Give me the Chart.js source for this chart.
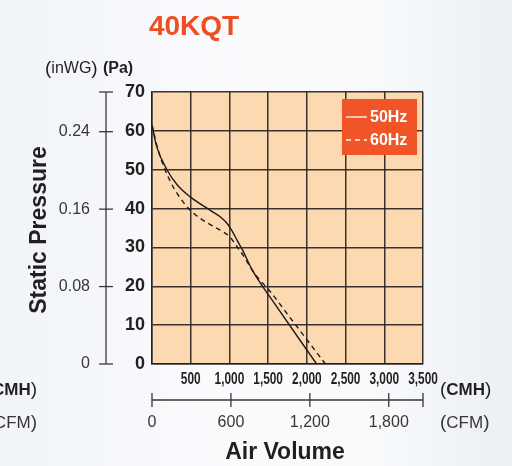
<!DOCTYPE html>
<html>
<head>
<meta charset="utf-8">
<script src="https://cdn.jsdelivr.net/npm/chart.js@4"></script>
<style>
  html, body { margin: 0; padding: 0; }
  body {
    width: 512px; height: 466px; overflow: hidden;
    background: linear-gradient(to right, #f1f4f8 0%, #fafbfd 45%, #f7f9fb 75%, #eceff3 100%);
  }
  canvas { display: block; }
</style>
</head>
<body>
<canvas id="pq" width="512" height="466"></canvas>
<script>
// 50Hz curve (air volume CMH / static pressure Pa)
const flow50 = [0, 60, 193, 330, 494, 773, 880, 960, 1030, 1100, 1170, 1289, 1400, 1525, 2126];
const pa50   = [61.5, 56, 50, 46, 43, 39.3, 37.9, 36.4, 34.4, 31.8, 29.3, 24.4, 20.8, 17.2, 0];

// 60Hz curve
const flow60 = [0, 80, 236, 429, 536, 700, 858, 930, 1000, 1095, 1202, 1267, 1374, 1500, 1800, 2240];
const pa60   = [61.5, 55, 47, 41, 38.8, 36.5, 34.7, 33.9, 32.8, 30.3, 27.2, 25, 22, 19.3, 11.5, 0];

// secondary axes
const inwgTicks = [0, 0.08, 0.16, 0.24];
const cfmTicks = [0, 600, 1200, 1800];
const cfmLabels = ['0', '600', '1,200', '1,800'];
const PA_PER_INWG = 249.09;
const CMH_PER_CFM = 1.699;

const FONT = "'Liberation Sans', Arial, Helvetica, sans-serif";
const INK = '#231f20';
const GRID = 'rgba(35, 31, 32, 0.9)';
const PEACH = '#fdd9b1';
const ORANGE = '#ef4e23';

function drawParts(ctx, parts, x, y, align) {
    // parts: [text, font]
    let total = 0;
    parts.forEach(p => { ctx.font = p[1]; total += ctx.measureText(p[0]).width; });
    let cx = align === 'right' ? x - total : (align === 'center' ? x - total / 2 : x);
    ctx.textAlign = 'left';
    parts.forEach(p => {
        ctx.font = p[1];
        ctx.fillText(p[0], cx, y);
        cx += ctx.measureText(p[0]).width;
    });
}

const extras = {
    id: 'extras',
    beforeDraw(chart) {
        const { ctx, chartArea: a } = chart;
        ctx.save();
        ctx.fillStyle = PEACH;
        ctx.fillRect(a.left, a.top, a.right - a.left, a.bottom - a.top);
        ctx.restore();
    },
    afterDraw(chart) {
        const { ctx } = chart;
        const xs = chart.scales.x;
        const ys = chart.scales.y;
        ctx.save();
        ctx.textBaseline = 'middle';

        // title
        ctx.fillStyle = ORANGE;
        ctx.font = 'bold 28px ' + FONT;
        ctx.textAlign = 'center';
        ctx.fillText('40KQT', 194, 27);

        // unit header
        ctx.fillStyle = INK;
        drawParts(ctx, [['(', '19px ' + FONT], ['inWG', '16px ' + FONT], [') ', '19px ' + FONT],
                        ['(Pa)', 'bold 16px ' + FONT]], 45, 69, 'left');

        // inWG axis
        const axX = 106;
        ctx.strokeStyle = '#3a3637';
        ctx.lineWidth = 1.3;
        ctx.beginPath();
        ctx.moveTo(axX, ys.getPixelForValue(ys.max));
        ctx.lineTo(axX, ys.getPixelForValue(0));
        ctx.stroke();
        const tickYs = [ys.max].concat(inwgTicks.map(v => v * PA_PER_INWG));
        tickYs.forEach(v => {
            const py = ys.getPixelForValue(v);
            ctx.beginPath();
            ctx.moveTo(axX - 7, py);
            ctx.lineTo(axX + 7, py);
            ctx.stroke();
        });
        ctx.fillStyle = '#3a3637';
        ctx.font = '16px ' + FONT;
        ctx.textAlign = 'right';
        inwgTicks.forEach(v => {
            const label = v === 0 ? '0' : v.toFixed(2);
            ctx.fillText(label, 90, ys.getPixelForValue(v * PA_PER_INWG));
        });

        // y title
        ctx.save();
        ctx.translate(40, 230);
        ctx.rotate(-Math.PI / 2);
        ctx.fillStyle = INK;
        ctx.font = 'bold 23px ' + FONT;
        ctx.textAlign = 'center';
        ctx.fillText('Static Pressure', 0, 0);
        ctx.restore();

        // CMH tick labels (condensed)
        ctx.fillStyle = INK;
        xs.ticks.forEach(t => {
            if (t.value === 0) return;
            const px = xs.getPixelForValue(t.value);
            ctx.save();
            ctx.translate(px, 380);
            ctx.scale(0.74, 1);
            ctx.font = 'bold 16px ' + FONT;
            ctx.textAlign = 'center';
            ctx.fillText(t.value.toLocaleString('en-US'), 0, 0);
            ctx.restore();
        });
        drawParts(ctx, [['(', '19px ' + FONT], ['CMH', 'bold 17px ' + FONT], [')', '19px ' + FONT]], 440, 390, 'left');

        // CFM axis
        const axY = 400;
        ctx.strokeStyle = '#3a3637';
        ctx.lineWidth = 1.3;
        ctx.beginPath();
        ctx.moveTo(xs.getPixelForValue(0), axY);
        ctx.lineTo(xs.getPixelForValue(xs.max), axY);
        ctx.stroke();
        const cfmTickPos = cfmTicks.map(v => v * CMH_PER_CFM).concat([xs.max]);
        cfmTickPos.forEach(v => {
            const px = xs.getPixelForValue(v);
            ctx.beginPath();
            ctx.moveTo(px, axY - 7);
            ctx.lineTo(px, axY + 7);
            ctx.stroke();
        });
        ctx.fillStyle = '#3a3637';
        ctx.font = '16px ' + FONT;
        ctx.textAlign = 'center';
        cfmTicks.forEach((v, i) => {
            ctx.fillText(cfmLabels[i], xs.getPixelForValue(v * CMH_PER_CFM), 423);
        });
        drawParts(ctx, [['(', '19px ' + FONT], ['CFM', '17px ' + FONT], [')', '19px ' + FONT]], 440, 423, 'left');

        // leftover labels from the neighbouring chart, clipped by the edge
        ctx.fillStyle = INK;
        drawParts(ctx, [['(', '19px ' + FONT], ['CMH', 'bold 17px ' + FONT], [')', '19px ' + FONT]], 37, 390, 'right');
        ctx.fillStyle = '#3a3637';
        drawParts(ctx, [['(', '19px ' + FONT], ['CFM', '17px ' + FONT], [')', '19px ' + FONT]], 37, 423, 'right');

        // x title
        ctx.fillStyle = INK;
        ctx.font = 'bold 23px ' + FONT;
        ctx.textAlign = 'center';
        ctx.fillText('Air Volume', 285, 453);

        // legend box
        const lx = 342, ly = 99, lw = 75, lh = 56;
        ctx.fillStyle = '#f05427';
        ctx.fillRect(lx, ly, lw, lh);
        chart.data.datasets.forEach((ds, i) => {
            const rowY = ly + 18 + i * 23;
            ctx.strokeStyle = '#ffffff';
            ctx.lineWidth = 1.3;
            ctx.setLineDash(ds.borderDash || []);
            ctx.beginPath();
            ctx.moveTo(lx + 4, rowY);
            ctx.lineTo(lx + 25, rowY);
            ctx.stroke();
            ctx.setLineDash([]);
            ctx.fillStyle = '#ffffff';
            ctx.font = 'bold 16px ' + FONT;
            ctx.textAlign = 'left';
            ctx.fillText(ds.label, lx + 28, rowY + 1);
        });

        ctx.restore();
    }
};

new Chart(document.getElementById('pq'), {
    type: 'scatter',
    data: {
        datasets: [{
            label: '50Hz',
            data: flow50.map((x, i) => ({ x: x, y: pa50[i] })),
            showLine: true,
            borderColor: '#1f1b1c',
            borderWidth: 1.4,
            pointRadius: 0,
            cubicInterpolationMode: 'monotone',
            fill: false
        }, {
            label: '60Hz',
            data: flow60.map((x, i) => ({ x: x, y: pa60[i] })),
            showLine: true,
            borderColor: '#1f1b1c',
            borderWidth: 1.4,
            borderDash: [5, 4],
            pointRadius: 0,
            cubicInterpolationMode: 'monotone',
            fill: false
        }]
    },
    options: {
        responsive: false,
        animation: false,
        devicePixelRatio: 1,
        layout: { padding: { top: 92, right: 89, bottom: 0, left: 0 } },
        scales: {
            x: {
                type: 'linear',
                min: 0,
                max: 3500,
                ticks: { stepSize: 500, display: false },
                grid: { color: GRID, lineWidth: 1.5, drawTicks: false },
                border: { color: GRID, width: 1.5 },
                afterFit: s => { s.height = 102; }
            },
            y: {
                type: 'linear',
                min: 0,
                max: 70,
                ticks: {
                    stepSize: 10,
                    padding: 7,
                    color: INK,
                    font: { family: FONT, weight: 'bold', size: 18 }
                },
                grid: { color: GRID, lineWidth: 1.5, drawTicks: false },
                border: { color: GRID, width: 1.5 },
                afterFit: s => { s.width = 152; }
            }
        },
        plugins: {
            legend: { display: false },
            tooltip: { enabled: false }
        }
    },
    plugins: [extras]
});
</script>
</body>
</html>
